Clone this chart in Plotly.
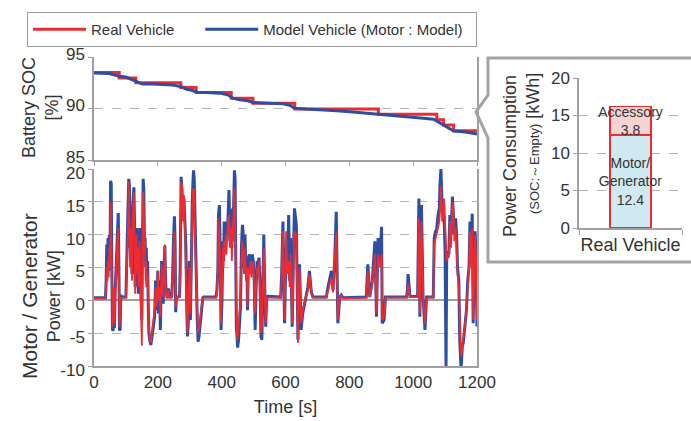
import plotly.graph_objects as go

W, H = 691, 421


def fx(px):
    return px / W


def fy(py):
    return 1 - py / H


# ---------------- data ----------------
# Battery SOC [%] - real vehicle (stepped) and model vehicle
soc_real_t = [0, 79, 131, 272, 320, 430, 498, 629, 891, 1074, 1095, 1127, 1200]
soc_real = [93.5, 92.95, 92.5, 92.05, 91.55, 91.0, 90.5, 89.95, 89.45, 88.9, 88.4, 87.85, 87.85]

soc_model_t = [0, 47, 63, 79, 100, 120, 136, 152, 183, 215,
               246, 272, 288, 309, 325, 351, 393, 419, 435, 456,
               482, 498, 540, 592, 613, 629, 665, 728, 760, 802,
               854, 886, 938, 990, 1032, 1064, 1085, 1106, 1127, 1148,
               1169, 1200]
soc_model = [93.45, 93.4, 93.28, 93.12, 93.05, 92.8, 92.53, 92.37, 92.37, 92.3,
             92.27, 92.14, 91.88, 91.75, 91.56, 91.56, 91.49, 91.33, 91.0, 90.84,
             90.75, 90.58, 90.52, 90.45, 90.32, 90.03, 89.94, 89.87, 89.77, 89.68,
             89.55, 89.45, 89.32, 89.22, 89.06, 88.96, 88.57, 88.25, 87.82, 87.76,
             87.7, 87.53]

# Motor / Generator power [kW]
power_t = [
    0, 36, 38, 40, 42, 44, 46, 48, 50, 52, 54, 56, 58, 60, 62, 64, 66, 70, 73, 76, 78, 80, 82, 84, 86, 100,
    103, 106, 109, 111, 113, 115, 117, 119, 121, 123, 125, 127, 129, 131, 133, 135, 137, 139, 141, 143,
    145, 148, 150, 152, 154, 156, 158, 160, 162, 164, 166, 168, 170,
    172, 175, 178, 181, 184, 187, 190, 193, 195, 198, 200, 202, 205, 208, 210, 212, 214, 217, 219, 222,
    224, 226, 230, 233, 236, 240, 243, 246, 249, 252, 254, 256, 258, 262, 268,
    270, 273, 276, 279, 282, 285, 288, 291, 293, 296, 299, 302, 305, 308, 310, 312, 314, 316, 318, 320,
    323, 326, 329, 332, 335, 338, 341, 344, 382,
    385, 388, 390, 393, 396, 398, 401, 404, 406, 408, 410, 413, 415, 417, 420, 423, 426, 429, 432, 434,
    436, 438, 440, 442, 444, 446, 448, 450, 453, 456, 459,
    462, 465, 467, 470, 473, 476, 479, 481, 484, 487, 490, 493, 496, 499, 502, 505, 508, 511, 514, 517,
    520, 523, 526, 529, 532, 535, 538, 541, 545, 585,
    588, 592, 597, 602, 606, 610, 613, 616, 621, 625, 628, 634, 639, 644, 649, 654, 663, 670, 675, 681,
    686,
    728, 733, 738, 744, 749, 754, 759, 764, 770, 775, 780, 853, 858, 864, 872, 880, 885, 890, 895, 901,
    903, 909, 913,
    979, 982, 984, 990, 1014, 1018, 1021, 1026, 1031, 1037, 1042, 1063,
    1066, 1070, 1073, 1078, 1082, 1084, 1087, 1091, 1094, 1097, 1100, 1103, 1105, 1108, 1112, 1115, 1119, 1123, 1126, 1129,
    1133, 1136, 1139, 1143, 1146, 1150, 1154, 1157, 1160, 1164, 1167, 1171, 1175, 1178, 1182, 1185, 1188, 1191, 1194, 1197,
    1200,
]
power_real = [
    0.3, 0.3, 2, 5, 3, 6, 3.5, 8, 5, 15, 9, 2, -4, -2, 2, -3.5, 0.5, 5, 9, 11, 3, -4, -2.5, 0.5, 0.4, 0.4,
    4, 10, 18, 12, 5, 11, 6, 3, 12, 15, 16.5, 9, 1, 6, 10, 4, 8, 2, 5, 9,
    3, -4, -6.9, 8, 16.5, 14, 7, 9, 3, 6, 2, 4, -2,
    -4, -6, -6.5, -5, -4, -3, -1.5, 2, -1, 0, 4.5, 0, 2, -2.5, 0.5, 5.5, 2, 0.5, 3.5, 8.5,
    3, 0.5, 0.3, 1.5, 0.3, 0.5, 0.3, 2, 6, 10.5, 7, -1, 0.5, 0.4, 0.5,
    3, 18, 17.5, 12, 16, 9, 5, -3, -5, 0, 5, -2, 8, 12, 17, 16, 17, 10, 5, 4.5,
    -1, -5, -4.5, -3, -1.5, -0.5, 0.3, 0.4, 0.4,
    1, 5, 12.5, 10, 3, -3.5, 2, 8, 5, 9, 7, 10, 7, 11, 12.5, 13, 8, 11, 6, 12,
    9, 15, 17, 13, 3, -3, -6, -5.5, -4, -2, 0,
    6, 9, 7, 4, 8, 3, 5, -1, 5, 4, 6, 3.5, 6, 5, 2, -2, 3, 5, 4, 6,
    2, -5, -4, 2, 8, 1, -3.5, 0.3, 0.4, 0.4,
    3, 10.5, -3, 10.5, 4, 6, 2, 7, -3.5, 5, 10.5, 10, -6.5, 5, -3.5, -1.5, 0.5, 1.5, 4, 1,
    0.4,
    0.4, 1.5, 2.5, 3.5, 1.2, 5, 10.5, -3, 0.5, 0.7, 0.3, 0.4, 4.5, 0.5, 2.5, 7, -2, 7, 5, 7,
    -3, -2.5, 0.4,
    0.4, 1, 2.5, 0.5, 0.5, 12.5, -2, 12, 0.5, -3.5, 0.4, 0.4,
    8.5, 9.5, 10, 11, 12, 13.5, 17.5, 12, 13, 15.5, 12, 7.5, 6, 7, 6.5, 12, 8, 15, 14, 9,
    11, 8, 4, 2, -4, -8.5, -7, -6, -4.5, -3, -1, 2.5, 4.5, 10.5, 5, 11, -3, 4, 10, 6,
    -3,
]
power_model = [
    0.4, 0.4, 3, 8.5, 6, 9.5, 4.5, 10, 6, 18.2, 17.8, 4, -4.6, -4.5, 1.5, -4.2, 1, 6, 12, 13.3, 5, -4.6, -4.4, 0.8, 0.5, 0.5,
    5, 13, 18.5, 17.5, 8, 12.5, 7, 4, 14, 16, 17.2, 12, 2, 8, 11, 6, 9, 1, 7, 11,
    4, -2, -3, 9, 18.5, 17, 9, 9.5, 5, 8, 2, 6, -1,
    -5, -6.2, -6.8, -5.8, -4.5, -4, -2.5, 3, -1.5, 1, 4.5, -2, 3, -4.5, 1, 6, 3, -0.5, 4.5, 8.3,
    3.5, 1.5, 0.6, 1.8, 0.5, 1, 0.4, 3, 9, 12.8, 9, -1.8, 0.3, 0.5, 0.6,
    5, 18.8, 17, 14, 15.5, 11, 8, -2, -5.5, -3, 6, -3, 10, 15, 18, 19.8, 18.5, 12, 5.5, 5,
    -2, -6.3, -5.5, -4, -2, -1, 0.4, 0.5, 0.5,
    1.5, 4.5, 13, 14.5, 5, -4.5, 0, 9, 6, 12, 8, 10.5, 12, 9, 13, 16.8, 10, 12, 8, 14,
    11, 17, 19.8, 18.5, 5, -4, -5.5, -7.2, -6, -4, -1,
    8, 11.5, 10.5, 5, 10, 5, 5.5, -1.5, 6.5, 7, 5, 4.5, 7, 6, 3, -4.5, 2, 6, 5.5, 6.5,
    3, -5.5, -6, 3, 10, 2, -4, 0.5, 0.6, 0.5,
    4, 12, -3.5, 8, 5, 13, 3, 9.5, -4, 7, 14, 11.5, -6, 5.5, -4.5, -2, 0.6, 2, 4.5, 1.2,
    0.5,
    0.5, 2, 3, 4.5, 1.5, 6, 13.5, -3.5, 0.5, 0.8, 0.4, 0.5, 5.5, 0.5, 3, 9, -2.5, 9.5, 5.5, 11.2,
    -3.5, -3, 0.5,
    0.5, 1.5, 4, 0.6, 0.6, 15.5, -2.5, 14.5, 0.5, -4.5, 0.5, 0.5,
    9.5, 10.5, 10.5, 13, 14, 17.5, 20, 14, 13, 12.5, 7.5, -10.5, 6, 7.5, 7, 13, 10, 15.8, 13, 10,
    12.5, 10, 5, 3, -6, -10.5, -7, -6.5, -5, -3, -1.5, 3, 5, 12, 6, 13.2, -3.5, 5, 10.5, 7,
    -4,
]

# Power consumption breakdown (SOC: ~Empty) [kWh]
inset_cat = ["Real Vehicle"]
motor_kwh = [12.4]
accessory_kwh = [3.8]
motor_label = "Motor/<br>Generator"
accessory_label = "Accessory"

# tick definitions
time_ticks = [0, 200, 400, 600, 800, 1000, 1200]
soc_ticks = [85, 90, 95]
power_ticks = [-10, -5, 0, 5, 10, 15, 20]
kwh_ticks = [0, 5, 10, 15, 20]

# ---------------- style ----------------
RED = "#ee2b31"
BLUE = "#2c4ea3"
AXIS = "#a0a0a0"
GRID = "#b4b4b4"
TXT = "#333333"
FONT = "Liberation Sans, Arial, sans-serif"
NB = "\u00a0"

fig = go.Figure()

fig.add_trace(go.Scatter(x=soc_real_t, y=soc_real, mode="lines", name="Real Vehicle" + NB * 5,
                         line=dict(color=RED, width=3, shape="hv"), xaxis="x", yaxis="y"))
fig.add_trace(go.Scatter(x=soc_model_t, y=soc_model, mode="lines", name="Model Vehicle (Motor : Model)" + NB * 2,
                         line=dict(color=BLUE, width=3), xaxis="x", yaxis="y"))
fig.add_trace(go.Scatter(x=power_t, y=power_model, mode="lines", showlegend=False,
                         line=dict(color=BLUE, width=3), xaxis="x2", yaxis="y2"))
fig.add_trace(go.Scatter(x=power_t, y=power_real, mode="lines", showlegend=False,
                         line=dict(color=RED, width=1.8), xaxis="x2", yaxis="y2"))

bar_text = dict(textposition="inside", insidetextanchor="middle", constraintext="none", textangle=0,
                textfont=dict(size=14, color=TXT, family=FONT), hoverinfo="skip", texttemplate="%{text}")
fig.add_trace(go.Bar(x=inset_cat, y=motor_kwh, showlegend=False, xaxis="x3", yaxis="y3",
                     marker=dict(color="#cfe9f1", line=dict(color=RED, width=1.5)),
                     text=[f"{motor_label}<br>{v}" for v in motor_kwh], **bar_text))
fig.add_trace(go.Bar(x=inset_cat, y=accessory_kwh, showlegend=False, xaxis="x3", yaxis="y3",
                     marker=dict(color="#f3d3d4", line=dict(color=RED, width=1.5)),
                     text=[f"{accessory_label}<br>{v}" for v in accessory_kwh], **bar_text))

tickfont = dict(size=17, color=TXT, family=FONT)
common_y = dict(ticks="outside", ticklen=4, tickcolor=AXIS, showline=True, linecolor=AXIS, linewidth=1.5,
                showgrid=True, gridcolor=GRID, griddash="dash", gridwidth=1.2, tickfont=tickfont,
                fixedrange=True, automargin=False)

fig.update_layout(
    width=W, height=H, autosize=False,
    margin=dict(l=0, r=0, t=0, b=0, autoexpand=False),
    paper_bgcolor="white", plot_bgcolor="white",
    font=dict(family=FONT, color=TXT, size=17),
    barmode="stack", bargap=0.6,
    showlegend=True,
    legend=dict(orientation="h", x=fx(27), y=fy(12), xanchor="left", yanchor="top",
                bordercolor="#9a9a9a", borderwidth=1, bgcolor="white",
                font=dict(size=15, color=TXT, family=FONT), itemwidth=53,
                traceorder="normal"),
    xaxis=dict(domain=[fx(94), fx(477)], anchor="y", range=[0, 1200], tickvals=time_ticks,
               showticklabels=False, ticks="outside", ticklen=4, tickcolor=AXIS, automargin=False,
               showline=True, linecolor=AXIS, linewidth=1.5, showgrid=False, zeroline=False),
    yaxis=dict(domain=[fy(160), fy(57)], anchor="x", range=[85, 95], tickvals=soc_ticks,
               mirror=True, zeroline=False, ticklabelshift=-3, **common_y),
    xaxis2=dict(domain=[fx(94), fx(477)], anchor="y2", range=[0, 1200], tickvals=time_ticks,
                ticks="", showline=True, linecolor=AXIS, linewidth=1.5, showgrid=False, zeroline=False,
                tickfont=tickfont, automargin=False,
                title=dict(text="Time [s]", standoff=9, font=dict(size=18, color=TXT, family=FONT))),
    yaxis2=dict(domain=[fy(366), fy(169)], anchor="x2", range=[-10, 20], tickvals=power_ticks,
                ticktext=[str(v) for v in power_ticks], mirror=True, ticklabelshift=4,
                zeroline=True, zerolinecolor=AXIS, zerolinewidth=1.5, **common_y),
    xaxis3=dict(domain=[fx(579), fx(682)], anchor="y3", type="category", range=[-0.5, 0.5],
                ticks="outside", tickson="boundaries", ticklen=5, tickcolor=AXIS, tickangle=0,
                showline=True, linecolor=AXIS, linewidth=1.5, showgrid=False, automargin=False,
                tickfont=dict(size=18, color=TXT, family=FONT)),
    yaxis3=dict(domain=[fy(228), fy(78)], anchor="x3", range=[0, 20], tickvals=kwh_ticks,
                zeroline=False, **common_y),
)

# axis titles (rotated)
title_font = dict(size=18, color=TXT, family=FONT)
fig.add_annotation(text="Battery SOC<br>[%]", x=fx(41), y=fy(108), xref="paper", yref="paper",
                   xanchor="center", yanchor="middle", textangle=-90, showarrow=False, font=title_font)
fig.add_annotation(text="<span style='font-size:21px'>Motor / Generator</span><br>Power [kW]",
                   x=fx(41), y=fy(296), xref="paper", yref="paper",
                   xanchor="center", yanchor="middle", textangle=-90, showarrow=False, font=title_font)
fig.add_annotation(text="Power Consumption", x=fx(510), y=fy(156), xref="paper", yref="paper",
                   xanchor="center", yanchor="middle", textangle=-90, showarrow=False, font=title_font)
fig.add_annotation(text="<span style='font-size:13px'>(SOC:～Empty)</span> [kWh]", x=fx(533), y=fy(144),
                   xref="paper", yref="paper", xanchor="center", yanchor="middle",
                   textangle=-90, showarrow=False, font=title_font)

# callout frame around the inset
pts = [(700, 58), (488, 58), (488, 95), (476, 112), (488, 138), (488, 262), (700, 262)]
path = "M " + " L ".join(f"{fx(px):.5f},{fy(py):.5f}" for px, py in pts)
fig.add_shape(type="path", path=path, xref="paper", yref="paper",
              line=dict(color="#a3a3a3", width=3), layer="above")

fig.write_html("out.html")
